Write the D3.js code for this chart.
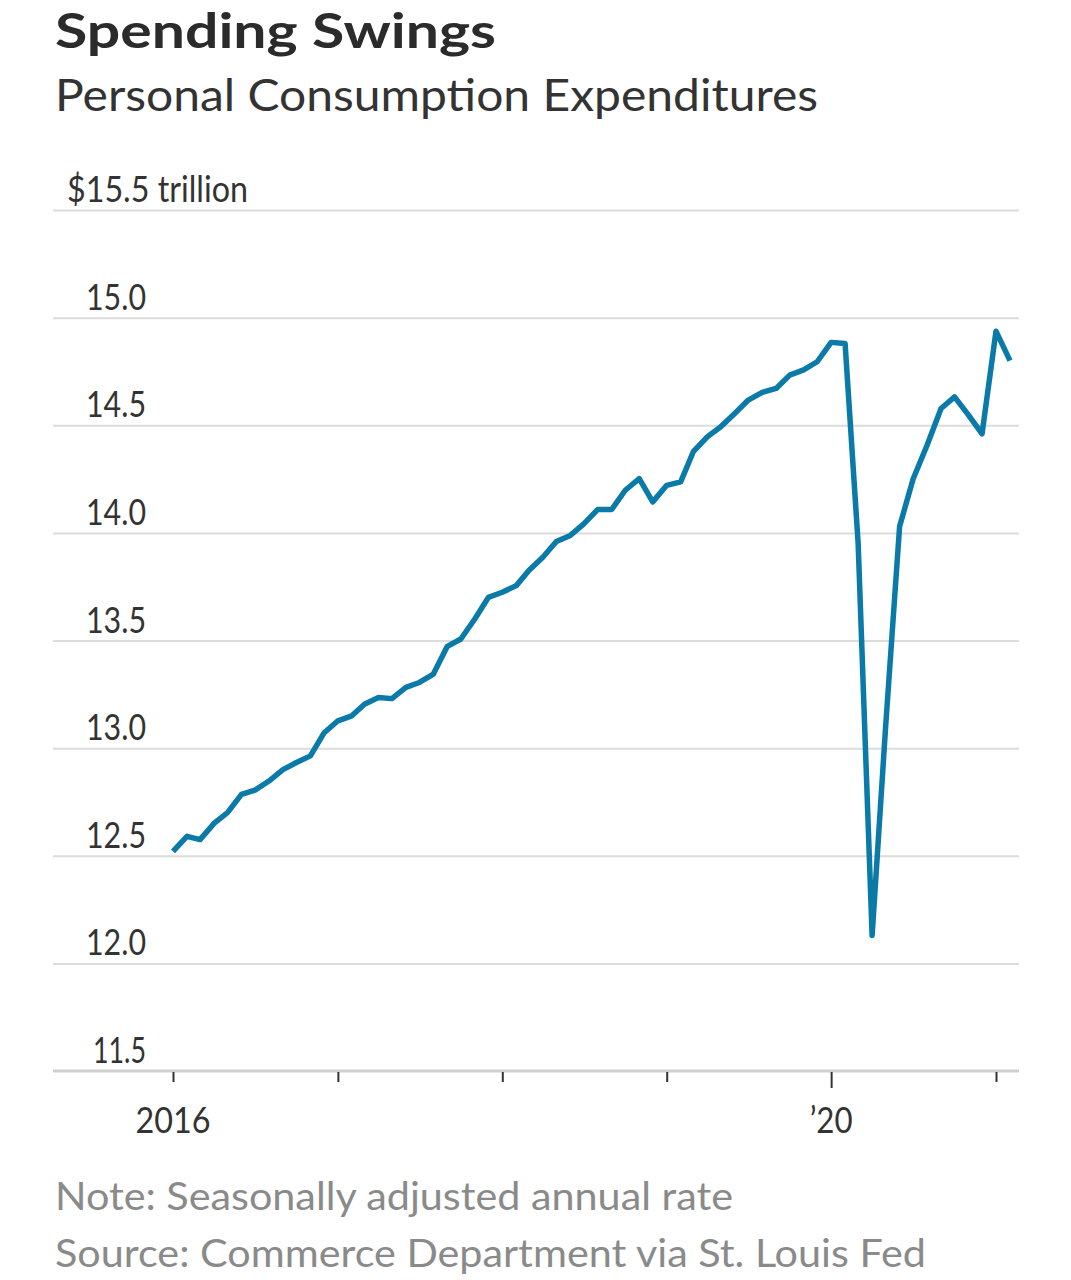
<!DOCTYPE html>
<html>
<head>
<meta charset="utf-8">
<script src="https://cdn.jsdelivr.net/npm/d3@7"></script>
<style>
  html, body { margin: 0; padding: 0; background: #fff; }
  svg { display: block; }
</style>
</head>
<body>
<svg id="chart" width="1071" height="1280"></svg>
<script>
// ---- data ----
const startMonth = "2016-01";
const pceValues = [
  // 2016
  12.52, 12.59, 12.575, 12.65, 12.70, 12.785, 12.805, 12.847, 12.90, 12.933, 12.964, 13.07,
  // 2017
  13.127, 13.15, 13.204, 13.235, 13.23, 13.282, 13.305, 13.344, 13.473, 13.507, 13.60, 13.70,
  // 2018
  13.724, 13.755, 13.825, 13.887, 13.96, 13.988, 14.042, 14.109, 14.109, 14.198, 14.252, 14.144,
  // 2019
  14.221, 14.237, 14.377, 14.446, 14.493, 14.555, 14.617, 14.653, 14.671, 14.733, 14.757, 14.795,
  // 2020
  14.885, 14.88, 13.95, 12.13, 13.1, 14.03, 14.25, 14.407, 14.578, 14.632, 14.547, 14.46,
  // 2021
  14.937, 14.80
];
const yTicks = [11.5, 12.0, 12.5, 13.0, 13.5, 14.0, 14.5, 15.0, 15.5];
const xTickYears = [2016, 2017, 2018, 2019, 2020, 2021];
const xTickLabels = {2016: "2016", 2020: "\u201920"};
const titleText = "Spending Swings";
const subtitleText = "Personal Consumption Expenditures";
const noteText = "Note: Seasonally adjusted annual rate";
const sourceText = "Source: Commerce Department via St. Louis Fed";

// ---- build ----
const parse = d3.timeParse("%Y-%m");
const start = parse(startMonth);
const data = pceValues.map((v, i) => ({ date: d3.timeMonth.offset(start, i), value: v }));

const svg = d3.select("#chart");
const FONT = "Lato, 'Open Sans', sans-serif";

const x = d3.scaleTime()
  .domain([new Date(2016, 0, 1), new Date(2021, 0, 1)])
  .range([173, 996]);
const y = d3.scaleLinear().domain([11.5, 15.5]).range([1071, 210]);

const gridLeft = 53, gridRight = 1019;

function fit(sel, w) {
  sel.attr("textLength", w).attr("lengthAdjust", "spacingAndGlyphs");
}

// title & subtitle
svg.append("text").attr("x", 55).attr("y", 48)
  .attr("font-family", FONT).attr("font-weight", 700).attr("font-size", 47)
  .attr("fill", "#2b2b2b").text(titleText).call(fit, 441);
svg.append("text").attr("x", 55).attr("y", 111)
  .attr("font-family", FONT).attr("font-weight", 400).attr("font-size", 45)
  .attr("fill", "#333").text(subtitleText).call(fit, 763);

// gridlines via axis
const gy = svg.append("g").attr("transform", `translate(${gridRight},0)`)
  .call(d3.axisRight(y).tickValues(yTicks.slice(1)).tickSize(-(gridRight - gridLeft)).tickFormat(""));
gy.select(".domain").remove();
gy.selectAll(".tick line").attr("stroke", "#dcdcdc").attr("stroke-width", 2);

// y labels
svg.append("g").selectAll("text")
  .data(yTicks)
  .join("text")
  .attr("x", d => d === 15.5 ? 67 : 146)
  .attr("y", d => y(d) - 8)
  .attr("text-anchor", d => d === 15.5 ? "start" : "end")
  .attr("font-family", FONT).attr("font-size", 36).attr("fill", "#333")
  .text(d => d === 15.5 ? "$15.5 trillion" : d.toFixed(1))
  .each(function(d) {
    const w = d === 15.5 ? 181 : (d === 11.5 ? 53 : 60);
    d3.select(this).call(fit, w);
  });

// x axis baseline
svg.append("line").attr("x1", gridLeft).attr("x2", gridRight)
  .attr("y1", y(11.5)).attr("y2", y(11.5))
  .attr("stroke", "#cfcfcf").attr("stroke-width", 3);

// x ticks
const gx = svg.append("g").attr("transform", `translate(0,${y(11.5) + 1})`)
  .call(d3.axisBottom(x).tickValues(xTickYears.map(yr => new Date(yr, 0, 1))).tickSize(10).tickFormat(""));
gx.select(".domain").remove();
gx.selectAll(".tick line").attr("stroke", "#333").attr("stroke-width", 2)
  .attr("y2", d => d.getFullYear() === 2020 ? 16 : 10);

svg.append("g").selectAll("text")
  .data(xTickYears.filter(yr => xTickLabels[yr]))
  .join("text")
  .attr("x", yr => x(new Date(yr, 0, 1)))
  .attr("y", 1133)
  .attr("text-anchor", "middle")
  .attr("font-family", FONT).attr("font-size", 37).attr("fill", "#333")
  .text(yr => xTickLabels[yr])
  .each(function(yr) { d3.select(this).call(fit, yr === 2016 ? 75 : 43); });

// line
const line = d3.line().x(d => x(d.date)).y(d => y(d.value)).curve(d3.curveLinear);
svg.append("path").datum(data)
  .attr("d", line)
  .attr("fill", "none")
  .attr("stroke", "#0a7aa8")
  .attr("stroke-width", 5.5)
  .attr("stroke-linejoin", "round")
  .attr("stroke-linecap", "butt");

// notes
svg.append("text").attr("x", 55).attr("y", 1210)
  .attr("font-family", FONT).attr("font-size", 39).attr("fill", "#8a8a8a")
  .text(noteText).call(fit, 678);
svg.append("text").attr("x", 55).attr("y", 1267)
  .attr("font-family", FONT).attr("font-size", 39).attr("fill", "#8a8a8a")
  .text(sourceText).call(fit, 871);
</script>
</body>
</html>
